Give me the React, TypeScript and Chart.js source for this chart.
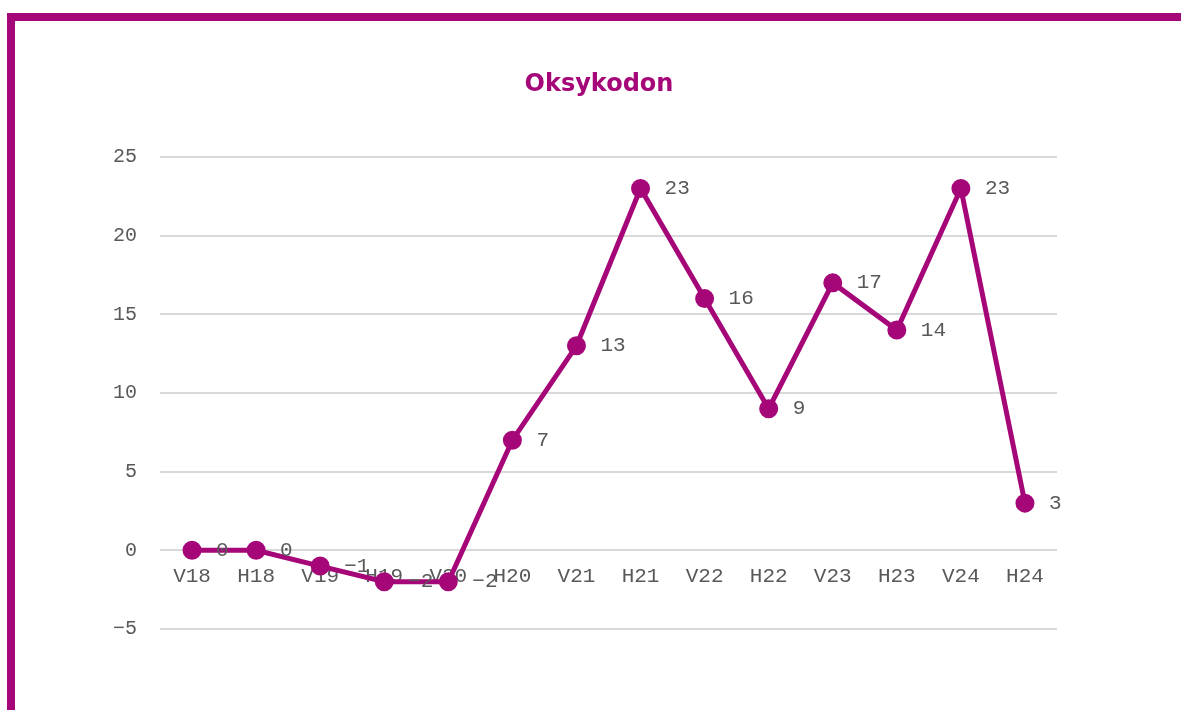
import React, { useEffect, useRef } from "react";
import { Chart, registerables } from "chart.js";

Chart.register(...registerables);

const TITLE = "Oksykodon";
const categories = ["V18", "H18", "V19", "H19", "V20", "H20", "V21", "H21", "V22", "H22", "V23", "H23", "V24", "H24"];
const values = [0, 0, -1, -2, -2, 7, 13, 23, 16, 9, 17, 14, 23, 3];
const yMin = -5;
const yMax = 25;
const yStep = 5;

const MAGENTA = "#a50678";
const TEXT = "#595959";
const MONO = "'Liberation Mono', 'DejaVu Sans Mono', monospace";

const fmt = (v: number) => (v < 0 ? "\u2212" + Math.abs(v) : String(v));

const dataLabels = {
  id: "dataLabels",
  afterDatasetsDraw(chart: any) {
    const ctx = chart.ctx;
    const meta = chart.getDatasetMeta(0);
    ctx.save();
    ctx.font = `21px ${MONO}`;
    ctx.fillStyle = TEXT;
    ctx.textAlign = "left";
    ctx.textBaseline = "middle";
    meta.data.forEach((pt: any, i: number) => {
      ctx.fillText(fmt(values[i]), pt.x + 24, pt.y);
    });
    ctx.restore();
  },
};

const titlePlugin = {
  id: "customTitle",
  afterDraw(chart: any) {
    const ctx = chart.ctx;
    ctx.save();
    ctx.font = `bold 24px 'DejaVu Sans', Verdana, sans-serif`;
    ctx.fillStyle = MAGENTA;
    ctx.textAlign = "center";
    ctx.textBaseline = "middle";
    ctx.fillText(TITLE, chart.width / 2, 64);
    ctx.restore();
  },
};

export default function App() {
  const ref = useRef<HTMLCanvasElement | null>(null);
  useEffect(() => {
    if (!ref.current) return;
    const chart = new Chart(ref.current, {
      type: "line",
      data: {
        labels: categories,
        datasets: [
          {
            data: values,
            borderColor: MAGENTA,
            backgroundColor: MAGENTA,
            borderWidth: 5,
            pointRadius: 7,
            pointHoverRadius: 7,
            pointBackgroundColor: MAGENTA,
            pointBorderColor: MAGENTA,
            tension: 0,
          },
        ],
      },
      options: {
        responsive: false,
        animation: false,
        layout: { padding: { left: 0, right: 126, top: 136, bottom: 81 } },
        plugins: {
          legend: { display: false },
          tooltip: { enabled: false },
          title: { display: false },
        },
        scales: {
          x: {
            type: "category",
            offset: true,
            position: { y: 0 } as any,
            grid: { display: false, drawTicks: false },
            border: { display: false },
            ticks: { color: TEXT, font: { family: MONO, size: 21 }, padding: 14, maxRotation: 0, autoSkip: false },
          },
          y: {
            min: yMin,
            max: yMax,
            grid: { color: "#d9d9d9", lineWidth: 2, drawTicks: false },
            border: { display: false },
            ticks: {
              stepSize: yStep,
              color: TEXT,
              padding: 23,
              font: { family: MONO, size: 20 },
              callback: (v: any) => fmt(Number(v)),
            },
            afterFit: (scale: any) => {
              scale.width = 145;
            },
          },
        },
      },
      plugins: [dataLabels, titlePlugin],
    });
    return () => chart.destroy();
  }, []);

  return (
    <div
      style={{
        position: "absolute",
        left: 7,
        top: 13,
        width: 1168,
        height: 697,
        borderTop: `8px solid ${MAGENTA}`,
        borderLeft: `8px solid ${MAGENTA}`,
        background: "#fff",
      }}
    >
      <canvas ref={ref} width={1168} height={689} style={{ display: "block" }} />
    </div>
  );
}
